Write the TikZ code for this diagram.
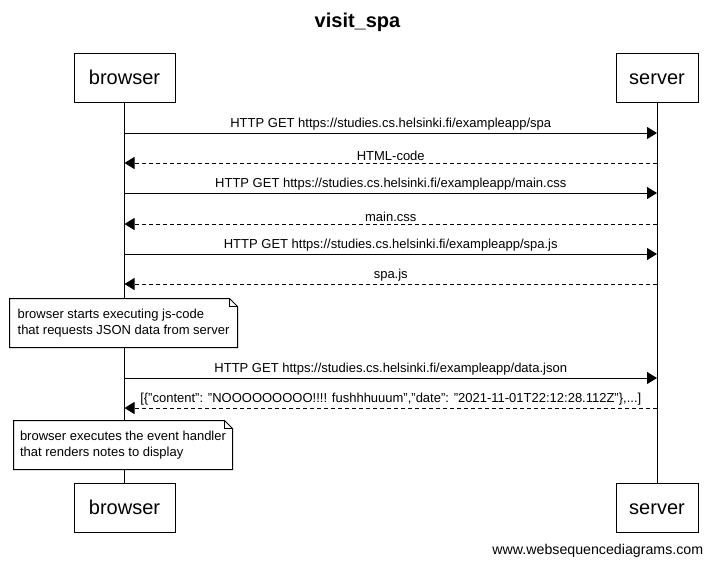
\documentclass[tikz,border=0pt]{standalone}
\usepackage{fontspec}
\setmainfont{Liberation Sans}
\usetikzlibrary{arrows.meta,calc}

\begin{document}
\begin{tikzpicture}[x=1pt,y=-1pt,line width=1pt]

	\useasboundingbox (0,0) rectangle (715,566);
	
	\tikzset{actor/.style=
		{draw,fill=white,minimum height=49pt,inner sep=0pt,
			text height=16pt,text depth=2pt,
			font=\fontsize{20}{24}\selectfont}}
	\tikzset{call/.style=
		{-{Triangle[length=10pt,width=12pt]}}}
	\tikzset{reply/.style=
		{call,dash pattern=on 4pt off 3pt}}
	\tikzset{lbl/.style=
		{above,inner sep=2pt,font=\fontsize{13}{15}\selectfont}}
	\tikzset{notebox/.style=
		{fill=white,align=left,minimum height=48pt,inner xsep=0pt,
			font=\fontsize{13}{16}\selectfont}}
	
	\node[font=\bfseries\fontsize{20}{24}\selectfont] (title) at (357.5,22) {visit\_spa};
	
	% participants
	\node[actor,minimum width=101pt] (browsertop) at (124.5,77.5) {browser};
	\node[actor,minimum width=82pt] (servertop) at (657,77.5) {server};
	\node[actor,minimum width=101pt] (browserbot) at (124.5,507.5) {browser};
	\node[actor,minimum width=82pt] (serverbot) at (657,507.5) {server};
	
	\draw (browsertop.south) -- (browserbot.north);
	\draw (servertop.south) -- (serverbot.north);
	
	% messages
	\coordinate (b1) at (124.5,133); \coordinate (s1) at (657,133);
	\coordinate (b2) at (124.5,163); \coordinate (s2) at (657,163);
	\coordinate (b3) at (124.5,193); \coordinate (s3) at (657,193);
	\coordinate (b4) at (124.5,224); \coordinate (s4) at (657,224);
	\coordinate (b5) at (124.5,254); \coordinate (s5) at (657,254);
	\coordinate (b6) at (124.5,284); \coordinate (s6) at (657,284);
	\coordinate (b7) at (124.5,378); \coordinate (s7) at (657,378);
	\coordinate (b8) at (124.5,408); \coordinate (s8) at (657,408);
	
	\draw[call] (b1) -- node[lbl] {HTTP GET https://studies.cs.helsinki.fi/exampleapp/spa} (s1);
	\draw[reply] (s2) -- node[lbl] {HTML-code} (b2);
	\draw[call] (b3) -- node[lbl] {HTTP GET https://studies.cs.helsinki.fi/exampleapp/main.css} (s3);
	\draw[reply] (s4) -- node[lbl] {main.css} (b4);
	\draw[call] (b5) -- node[lbl] {HTTP GET https://studies.cs.helsinki.fi/exampleapp/spa.js} (s5);
	\draw[reply] (s6) -- node[lbl] {spa.js} (b6);
	\draw[call] (b7) -- node[lbl] {HTTP GET https://studies.cs.helsinki.fi/exampleapp/data.json} (s7);
	\draw[reply] (s8) -- node[lbl] {[\{"content": "NOOOOOOOOO!!!! fushhhuuum","date": "2021-11-01T22:12:28.112Z"\},...]} (b8);
	
	% notes
	\node[notebox,minimum width=227pt] (note1) at (123.5,323)
		{browser starts executing js-code\\that requests JSON data from server};
	\draw (note1.north west) -- ($(note1.north east)+(-8,0)$) -- ($(note1.north east)+(0,8)$)
		-- (note1.south east) -- (note1.south west) -- cycle;
	\draw ($(note1.north east)+(-8,0)$) -- ($(note1.north east)+(-8,8)$) -- ($(note1.north east)+(0,8)$);
	
	\node[notebox,minimum width=218pt] (note2) at (123,445)
		{browser executes the event handler\\that renders notes to display};
	\draw (note2.north west) -- ($(note2.north east)+(-8,0)$) -- ($(note2.north east)+(0,8)$)
		-- (note2.south east) -- (note2.south west) -- cycle;
	\draw ($(note2.north east)+(-8,0)$) -- ($(note2.north east)+(-8,8)$) -- ($(note2.north east)+(0,8)$);
	
	\node[anchor=east,font=\fontsize{14.2}{16}\selectfont] (footer) at (707,551) {www.websequencediagrams.com};
\end{tikzpicture}
\end{document}
